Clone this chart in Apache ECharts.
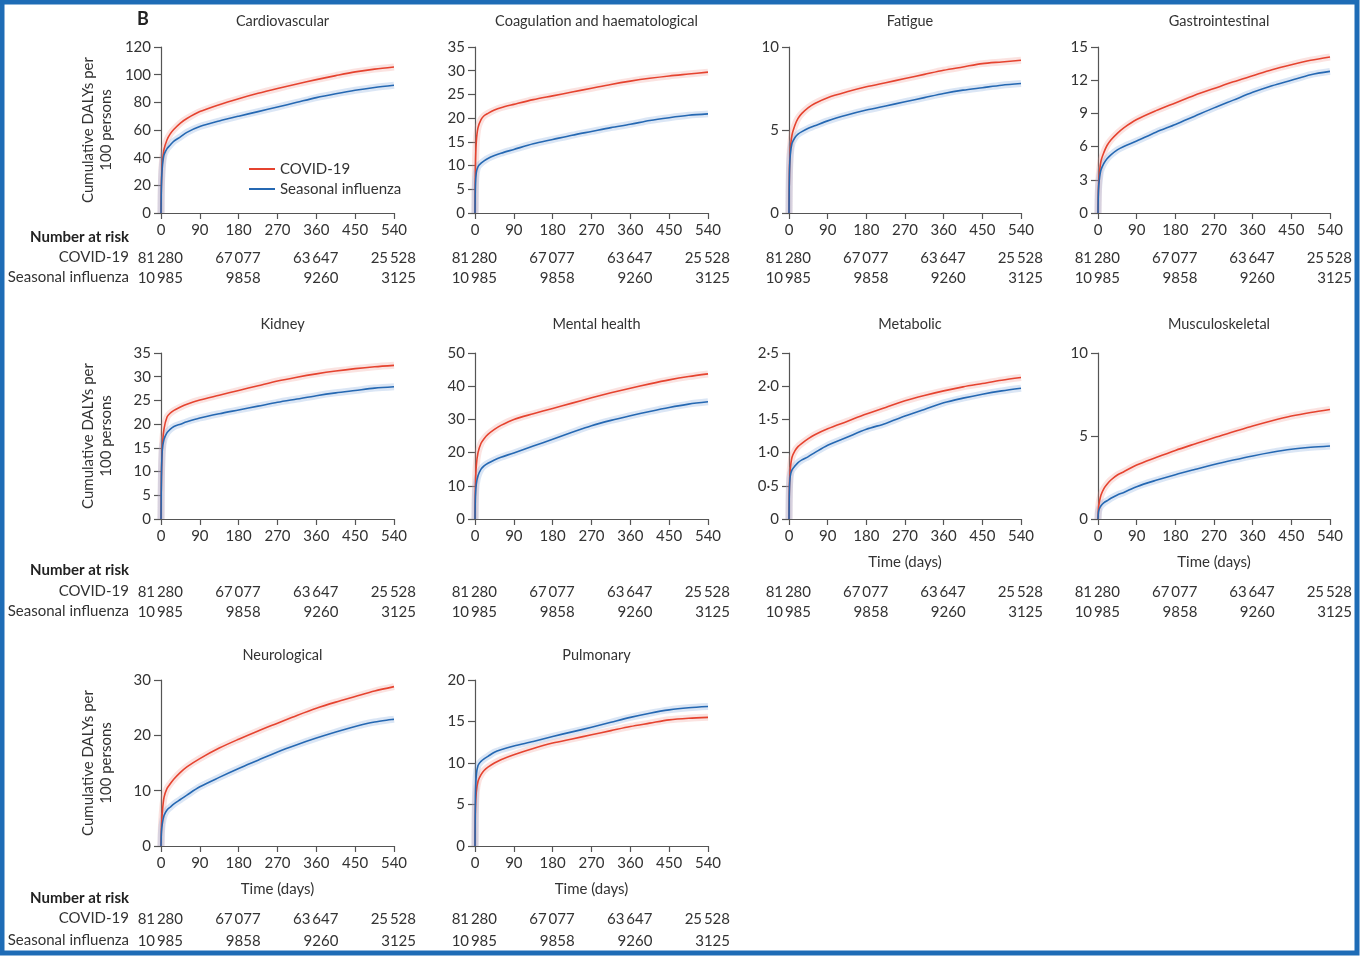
<!DOCTYPE html>
<html>
<head>
<meta charset="utf-8">
<script src="https://cdn.jsdelivr.net/npm/echarts@6/dist/echarts.min.js"></script>
<style>
  html, body { margin: 0; padding: 0; background: #fff; }
  #chart { width: 1361px; height: 958px; }
</style>
</head>
<body>
<div id="chart"></div>
<script>
// Cumulative DALYs per 100 persons, COVID-19 vs seasonal influenza, by organ system.
// Values at these follow-up days.
const days = [0, 1, 3, 7, 14, 21, 30, 45, 60, 90, 135, 180, 225, 270, 315, 360, 405, 450, 495, 540];

const cardioCovid = [0, 22, 36, 46, 53, 57, 60.5, 65, 68.3, 73.3, 78.3, 82.6, 86.5, 90, 93.3, 96.4, 99.3, 102, 104, 105.5];
const cardioFlu   = [0, 20, 33, 42, 46.5, 49, 52, 55, 58.3, 62.5, 66.5, 70, 73.3, 76.6, 80, 83.4, 86.2, 88.7, 90.7, 92.3];
const coagCovid   = [0, 10, 15, 18, 19.7, 20.5, 21, 21.7, 22.2, 22.9, 23.9, 24.7, 25.5, 26.3, 27.1, 27.8, 28.4, 28.9, 29.3, 29.7];
const coagFlu     = [0, 6, 8.5, 9.8, 10.5, 11, 11.5, 12.1, 12.6, 13.4, 14.6, 15.5, 16.4, 17.2, 18, 18.7, 19.5, 20.1, 20.6, 20.9];
const fatigueCovid = [0, 2.5, 3.8, 4.7, 5.3, 5.7, 6.0, 6.35, 6.6, 6.95, 7.3, 7.6, 7.85, 8.1, 8.35, 8.6, 8.8, 9.0, 9.1, 9.2];
const fatigueFlu   = [0, 2.3, 3.5, 4.2, 4.55, 4.75, 4.9, 5.1, 5.25, 5.55, 5.9, 6.2, 6.45, 6.7, 6.95, 7.2, 7.4, 7.55, 7.7, 7.8];
const gastroCovid = [0, 2.2, 3.5, 4.7, 5.5, 6.1, 6.6, 7.2, 7.7, 8.45, 9.25, 9.95, 10.65, 11.25, 11.85, 12.4, 12.95, 13.4, 13.8, 14.1];
const gastroFlu   = [0, 2.0, 3.0, 3.9, 4.5, 4.9, 5.25, 5.7, 6.0, 6.5, 7.3, 8.0, 8.75, 9.5, 10.2, 10.9, 11.5, 12.0, 12.5, 12.8];
const kidneyCovid = [0, 9, 15, 19, 21.5, 22.3, 22.9, 23.6, 24.2, 25.1, 26.1, 27.1, 28.1, 29.1, 29.9, 30.6, 31.2, 31.7, 32.1, 32.4];
const kidneyFlu   = [0, 9, 14.5, 16.8, 18.2, 18.9, 19.5, 20.0, 20.5, 21.3, 22.2, 23.0, 23.8, 24.6, 25.3, 26.0, 26.6, 27.1, 27.6, 27.9];
const mentalCovid = [0, 10, 16, 20, 22.8, 24.2, 25.5, 27, 28.2, 30, 31.7, 33.3, 34.9, 36.5, 38, 39.4, 40.7, 41.9, 42.9, 43.7];
const mentalFlu   = [0, 7, 10.5, 13, 15, 16, 16.8, 17.8, 18.6, 19.9, 22, 24.0, 26.1, 28.1, 29.7, 31.1, 32.4, 33.6, 34.6, 35.3];
const metabCovid  = [0, 0.5, 0.75, 0.93, 1.03, 1.09, 1.14, 1.21, 1.27, 1.36, 1.47, 1.58, 1.68, 1.78, 1.86, 1.93, 1.99, 2.04, 2.09, 2.13];
const metabFlu    = [0, 0.45, 0.65, 0.74, 0.8, 0.85, 0.89, 0.94, 1.0, 1.11, 1.23, 1.35, 1.44, 1.55, 1.65, 1.75, 1.82, 1.88, 1.93, 1.97];
const muscCovid   = [0, 0.6, 1.0, 1.45, 1.85, 2.1, 2.35, 2.65, 2.85, 3.25, 3.7, 4.13, 4.52, 4.9, 5.25, 5.6, 5.92, 6.2, 6.42, 6.6];
const muscFlu     = [0, 0.4, 0.6, 0.8, 0.98, 1.1, 1.25, 1.45, 1.6, 1.95, 2.33, 2.67, 2.98, 3.28, 3.55, 3.8, 4.02, 4.2, 4.32, 4.4];
const neuroCovid  = [0, 3.5, 6, 8.8, 10.4, 11.2, 12.1, 13.3, 14.3, 15.8, 17.7, 19.3, 20.8, 22.2, 23.6, 24.9, 26.0, 27.0, 28.0, 28.8];
const neuroFlu    = [0, 2.5, 4, 5.5, 6.5, 7.0, 7.6, 8.4, 9.2, 10.7, 12.4, 14.0, 15.5, 17.0, 18.3, 19.5, 20.6, 21.6, 22.4, 22.9];
const pulmCovid   = [0, 4.5, 6.5, 7.8, 8.6, 9.1, 9.5, 10.0, 10.4, 11.0, 11.75, 12.4, 12.9, 13.4, 13.9, 14.4, 14.8, 15.2, 15.4, 15.5];
const pulmFlu     = [0, 6, 8.5, 9.7, 10.2, 10.5, 10.8, 11.3, 11.6, 12.05, 12.6, 13.2, 13.75, 14.3, 14.9, 15.5, 16.0, 16.4, 16.65, 16.8];

const panelTitles = ['Cardiovascular', 'Coagulation and haematological', 'Fatigue', 'Gastrointestinal',
  'Kidney', 'Mental health', 'Metabolic', 'Musculoskeletal', 'Neurological', 'Pulmonary'];
const covidSets = [cardioCovid, coagCovid, fatigueCovid, gastroCovid, kidneyCovid, mentalCovid, metabCovid, muscCovid, neuroCovid, pulmCovid];
const fluSets   = [cardioFlu, coagFlu, fatigueFlu, gastroFlu, kidneyFlu, mentalFlu, metabFlu, muscFlu, neuroFlu, pulmFlu];
const yMax      = [120, 35, 10, 15, 35, 50, 2.5, 10, 30, 20];
const yStep     = [20, 5, 5, 3, 5, 10, 0.5, 5, 10, 5];

// number at risk table
const riskDays  = [0, 180, 360, 540];
const riskCovid = [81280, 67077, 63647, 25528];
const riskFlu   = [10985, 9858, 9260, 3125];

const FONT = 'Lato';
const RED = '#e5432f';
const BLUE = '#2568b2';
const INK = '#333';

// layout
const colLeft = [161, 475, 789, 1098];
const colWidth = [233, 233, 232, 232];
const rowTop = [47, 353, 680];
const titleTop = [9, 312, 643];
const riskMargin = [[38, 58], [66, 86], [66, 88]];   // COVID row, influenza row (px below the x axis)
const riskRowY = [[237, 257, 277], [570, 591, 611], [898, 918, 940]];
const plotH = 166;
const rowOf = (i) => Math.floor(i / 4);
const colOf = (i) => i % 4;

const fmtRisk = (n) => {
  const s = String(n);
  return s.length > 4 ? s.slice(0, s.length - 3) + '\u2009' + s.slice(-3) : s;
};
const fmtY = (step) => (v) => (v === 0 ? '0' : (step < 1 ? v.toFixed(1).replace('.', '\u00b7') : String(v)));

const grids = [], xAxes = [], yAxes = [], series = [], titles = [];

panelTitles.forEach((name, i) => {
  const r = rowOf(i), c = colOf(i);
  grids.push({ left: colLeft[c], top: rowTop[r], width: colWidth[c], height: plotH });
  titles.push({
    text: name, left: colLeft[c] + colWidth[c] / 2, top: titleTop[r], textAlign: 'center',
    textStyle: { fontFamily: FONT, fontSize: 14.5, fontWeight: 'normal', color: INK }
  });

  const showTime = i >= 6;
  xAxes.push({
    type: 'value', gridIndex: i, min: 0, max: 540, interval: 90,
    name: showTime ? 'Time (days)' : '', nameLocation: 'middle', nameGap: 36,
    nameTextStyle: { fontFamily: FONT, fontSize: 15, color: INK },
    axisLine: { show: true, lineStyle: { color: '#555', width: 1.2 } },
    axisTick: { show: true, length: 6, lineStyle: { color: '#555', width: 1.2 } },
    axisLabel: { margin: 10, fontFamily: FONT, fontSize: 15, color: INK },
    splitLine: { show: false }
  });
  // two label-only axes for the number-at-risk rows
  [[riskCovid, riskMargin[r][0]], [riskFlu, riskMargin[r][1]]].forEach(([vals, margin]) => {
    xAxes.push({
      type: 'value', gridIndex: i, min: 0, max: 540, interval: 180, position: 'bottom',
      axisLine: { show: false }, axisTick: { show: false }, splitLine: { show: false },
      axisLabel: {
        margin: margin, color: INK,
        formatter: (v) => '{n|' + fmtRisk(vals[riskDays.indexOf(v)]) + '}',
        rich: { n: { width: 44, align: 'right', fontFamily: FONT, fontSize: 15, color: INK } }
      }
    });
  });

  yAxes.push({
    type: 'value', gridIndex: i, min: 0, max: yMax[i], interval: yStep[i],
    name: c === 0 ? 'Cumulative DALYs per\n100 persons' : '', nameLocation: 'middle', nameGap: 46,
    nameTextStyle: { fontFamily: FONT, fontSize: 15, color: INK, lineHeight: 18 },
    axisLine: { show: true, lineStyle: { color: '#555', width: 1.2 } },
    axisTick: { show: true, length: 7, lineStyle: { color: '#555', width: 1.2 } },
    axisLabel: { margin: 10, fontFamily: FONT, fontSize: 15, color: INK, formatter: fmtY(yStep[i]) },
    splitLine: { show: false }
  });

  const xIdx = i * 3;
  const pts = (arr) => days.map((d, k) => [d, arr[k]]);
  const line = (nm, arr, color, width, opacity, z) => ({
    type: 'line', name: nm, xAxisIndex: xIdx, yAxisIndex: i, data: pts(arr),
    symbol: 'none', smooth: 0.3, silent: true, z: z,
    lineStyle: { color: color, width: width, opacity: opacity, join: 'round' }, itemStyle: { color: color }
  });
  series.push(line('COVID-19 CI', covidSets[i], '#f08f86', 7, 0.25, 1));
  series.push(line('Seasonal influenza CI', fluSets[i], '#7ea6dc', 7, 0.28, 1));
  series.push(line('COVID-19', covidSets[i], RED, 1.6, 1, 3));
  series.push(line('Seasonal influenza', fluSets[i], BLUE, 1.6, 1, 4));
});

// row labels for the number-at-risk table
const rowText = (text, y, bold) => ({
  type: 'text', x: 129, y: y,
  style: { text: text, fontFamily: FONT, fontSize: 15, fontWeight: bold ? 'bold' : 'normal',
    fill: bold ? '#222' : INK, align: 'right', verticalAlign: 'middle' }
});
const graphics = [
  { type: 'rect', shape: { x: 2, y: 2, width: 1355, height: 951 }, style: { fill: 'none', stroke: '#1e6cb6', lineWidth: 5 }, silent: true },
  { type: 'text', x: 137, y: 19, style: { text: 'B', fontFamily: FONT, fontSize: 18, fontWeight: 'bold', fill: '#222', verticalAlign: 'middle' } }
];
riskRowY.forEach(([a, b, c]) => {
  graphics.push(rowText('Number at risk', a, true));
  graphics.push(rowText('COVID-19', b, false));
  graphics.push(rowText('Seasonal influenza', c, false));
});

const chart = echarts.init(document.getElementById('chart'), null, { renderer: 'canvas' });
chart.setOption({
  animation: false,
  backgroundColor: '#fff',
  title: titles,
  legend: {
    data: ['COVID-19', 'Seasonal influenza'], orient: 'vertical', left: 244, top: 156,
    itemWidth: 26, itemHeight: 2, itemGap: 4, selectedMode: false,
    icon: 'path://M0,0L26,0L26,2L0,2Z',
    textStyle: { fontFamily: FONT, fontSize: 15, color: INK, lineHeight: 16 }
  },
  grid: grids,
  xAxis: xAxes,
  yAxis: yAxes,
  series: series,
  graphic: graphics
});
</script>
</body>
</html>
